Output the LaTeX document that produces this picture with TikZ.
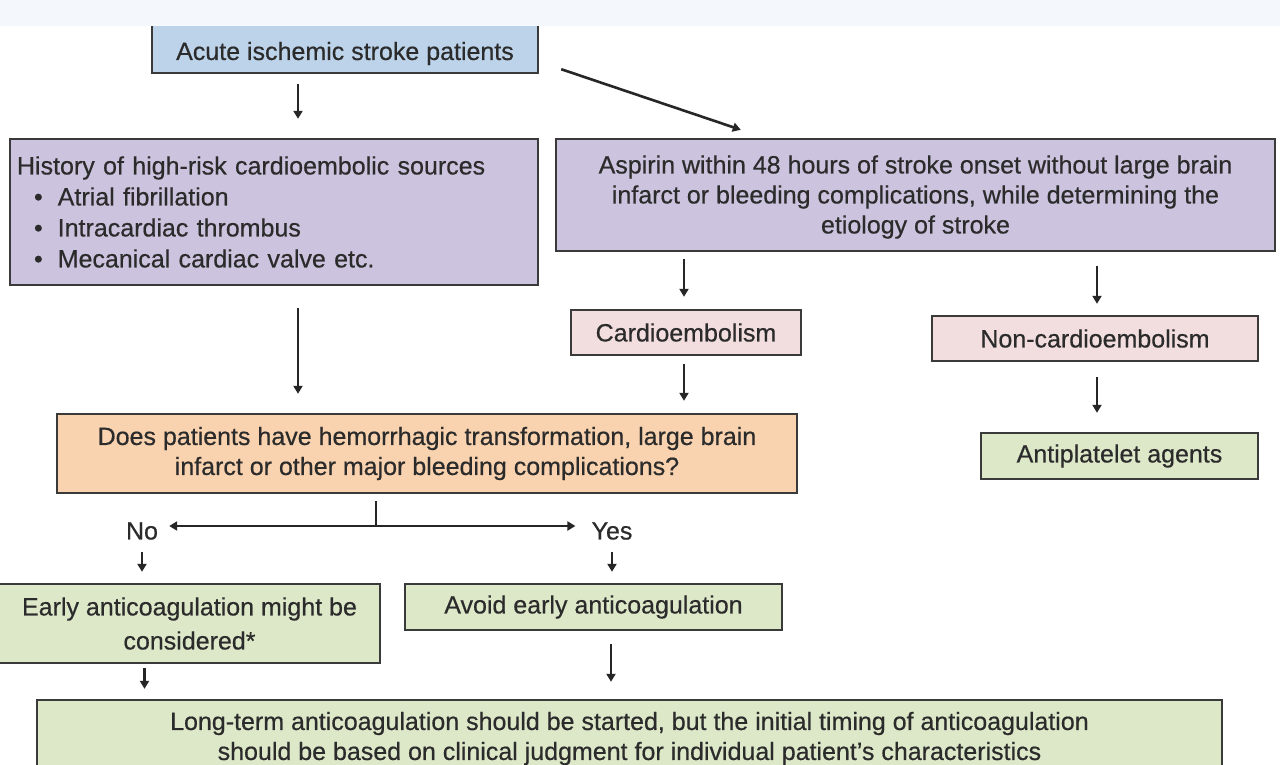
\documentclass[tikz,border=0pt]{standalone}
\usepackage{fontspec}
\setmainfont{Liberation Sans}[BoldFont={Liberation Sans},BoldFeatures={FakeBold=0.5}]
\usetikzlibrary{arrows.meta,calc}
\definecolor{boxline}{HTML}{3A3A3A}
\definecolor{txt}{HTML}{2B2B2B}
\definecolor{arrc}{HTML}{262626}
\definecolor{bluef}{HTML}{BDD3EA}
\definecolor{lavf}{HTML}{CCC4DE}
\definecolor{pinkf}{HTML}{F3DEDF}
\definecolor{orgf}{HTML}{F9D3AF}
\definecolor{grnf}{HTML}{DDE8C9}
\definecolor{stripf}{HTML}{F4F8FC}
\newcommand{\txtdown}[2]{\raisebox{0pt}[\dimexpr\height+#1*2\relax][\depth]{#2}}
\begin{document}
\begin{tikzpicture}[x=1pt,y=-1pt,
  box/.style={draw=boxline, line width=2.4pt, inner sep=0pt, align=center,
    font=\fontsize{25}{30}\selectfont\bfseries, text=txt},
  lbl/.style={inner sep=0pt, font=\fontsize{25}{30}\selectfont\bfseries, text=txt},
  tip/.tip={Triangle[length=8pt,width=9pt]},
  arr/.style={line width=2.6pt, draw=arrc, -tip},
  darr/.style={line width=2.6pt, draw=arrc, tip-tip},
  ln/.style={line width=1.8pt, draw=arrc}]
\useasboundingbox (0,0) rectangle (1280,764);
\clip (0,0) rectangle (1280,764);
\fill[white] (0,0) rectangle (1280,764);

% boxes
\node[box, fill=bluef, minimum width=386pt, minimum height=49pt] (top) at (345,48.5) {\txtdown{5pt}{Acute ischemic stroke patients}};
\node[box, fill=lavf, minimum width=528pt, minimum height=146pt, align=left, text width=514pt, font=\fontsize{25}{31}\selectfont\bfseries] (hist) at (274,212)
  {History of high-risk cardioembolic sources\\
   \hspace*{17pt}\textbullet\hspace*{15pt}Atrial fibrillation\\
   \hspace*{17pt}\textbullet\hspace*{15pt}Intracardiac thrombus\\
   \hspace*{17pt}\textbullet\hspace*{15pt}Mecanical cardiac valve etc.};
\node[box, fill=lavf, minimum width=719pt, minimum height=112pt] (asp) at (915.5,195)
  {\txtdown{2pt}{\parbox{719pt}{\centering
   Aspirin within 48 hours of stroke onset without large brain\\
   infarct or bleeding complications, while determining the\\
   etiology of stroke}}};
\node[box, fill=pinkf, minimum width=230pt, minimum height=45pt] (card) at (686,332.5) {Cardioembolism};
\node[box, fill=pinkf, minimum width=326pt, minimum height=45pt] (ncard) at (1095,338.5) {Non-cardioembolism};
\node[box, fill=grnf, minimum width=277pt, minimum height=46pt] (anti) at (1119.5,456) {Antiplatelet agents};
\node[box, fill=orgf, minimum width=740pt, minimum height=79pt] (q) at (427,453.5)
  {Does patients have hemorrhagic transformation, large brain\\
   infarct or other major bleeding complications?};
\node[box, fill=grnf, minimum width=381pt, minimum height=79pt, font=\fontsize{25}{34}\selectfont\bfseries] (early) at (189.5,623.5)
  {Early anticoagulation might be\\ considered*};
\node[box, fill=grnf, minimum width=377pt, minimum height=46pt] (avoid) at (593.5,607) {Avoid early anticoagulation};
\node[box, fill=grnf, minimum width=1185pt, minimum height=77pt] (long) at (629.5,738.5)
  {Long-term anticoagulation should be started, but the initial timing of anticoagulation\\
   should be based on clinical judgment for individual patient’s characteristics};

% labels
\node[lbl] (no) at (142,531) {No};
\node[lbl] (yes) at (612,531) {Yes};

% top strip
\fill[stripf] (0,0) rectangle (1280,26);

% connectors
\coordinate (t1) at ($(top.south)+(-47,0)$);
\draw[arr, shorten <=10pt, shorten >=19pt] (t1) -- (t1 |- hist.north);
\coordinate (t2) at ($(top.south east)+(22,-5)$);
\coordinate (t3) at ($(asp.north west)+(186,-8)$);
\draw[arr] (t2) -- (t3);
\coordinate (h1) at ($(hist.south)+(24,0)$);
\draw[arr, shorten <=22pt, shorten >=19pt] (h1) -- (h1 |- q.north);
\coordinate (a1) at ($(card.north)+(-2,0)$);
\draw[arr, shorten <=7pt, shorten >=12pt] (a1 |- asp.south) -- (a1);
\coordinate (a2) at ($(ncard.north)+(2,0)$);
\draw[arr, shorten <=14pt, shorten >=11pt] (a2 |- asp.south) -- (a2);
\coordinate (c1) at ($(card.south)+(-2,0)$);
\draw[arr, shorten <=8pt, shorten >=12pt] (c1) -- (c1 |- q.north);
\coordinate (n1) at ($(ncard.south)+(2,0)$);
\draw[arr, shorten <=15pt, shorten >=19pt] (n1) -- (n1 |- anti.north);
\coordinate (q1) at ($(q.south)+(-51,0)$);
\coordinate (q2) at ($(q1)+(0,33)$);
\draw[ln, shorten <=7pt] (q1) -- (q2);
\coordinate (qL) at ($(no.east)+(11,-5)$);
\coordinate (qR) at ($(yes.west)+(-16,-5)$);
\draw[darr] (qL) -- (qR);
\draw[arr, shorten <=12pt, shorten >=11pt] (no.south) -- (no.south |- early.north);
\draw[arr, shorten <=12pt, shorten >=11pt] (yes.south) -- (yes.south |- avoid.north);
\coordinate (e1) at ($(early.south)+(-45,0)$);
\draw[arr, shorten <=4pt, shorten >=10pt] (e1) -- (e1 |- long.north);
\coordinate (v1) at ($(avoid.south)+(17.5,0)$);
\draw[arr, shorten <=13pt, shorten >=17pt] (v1) -- (v1 |- long.north);
\end{tikzpicture}
\end{document}
